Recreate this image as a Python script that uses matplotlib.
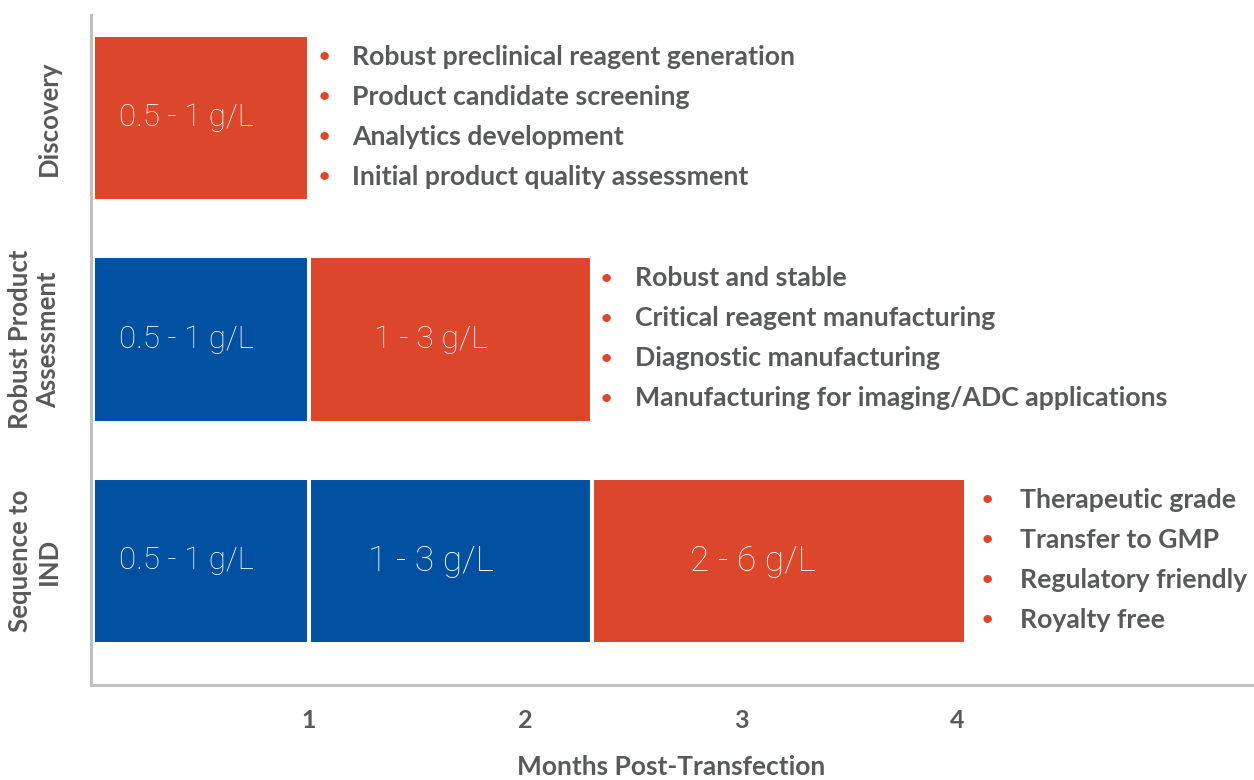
import matplotlib
matplotlib.use("Agg")
import matplotlib.pyplot as plt

plt.rcParams['font.family'] = ['Lato', 'DejaVu Sans']

stages = ["Discovery", "Robust Product\nAssessment", "Sequence to\nIND"]
# segment durations (months) for each stage
durations = [[1.0], [1.0, 1.31], [1.0, 1.31, 1.73]]
seg_labels = [["0.5 - 1 g/L"], ["0.5 - 1 g/L", "1 - 3 g/L"], ["0.5 - 1 g/L", "1 - 3 g/L", "2 - 6 g/L"]]
bullets = [
    ["Robust preclinical reagent generation", "Product candidate screening",
     "Analytics development", "Initial product quality assessment"],
    ["Robust and stable", "Critical reagent manufacturing",
     "Diagnostic manufacturing", "Manufacturing for imaging/ADC applications"],
    ["Therapeutic grade", "Transfer to GMP", "Regulatory friendly", "Royalty free"],
]
xticks = [1, 2, 3, 4]
xlabel = "Months Post-Transfection"

RED = "#DC462B"
BLUE = "#0050A2"
GRAY = "#58595B"
SPINE = "#C0C0C0"

fig = plt.figure(figsize=(12.54, 7.8), dpi=100)
ax = fig.add_axes([91/1254, 1-685/780, (1252-91)/1254, 670/780])

bar_h = 0.75
for i, (durs, labs) in enumerate(zip(durations, seg_labels)):
    left = 0.0
    n = len(durs)
    for j, (d, lab) in enumerate(zip(durs, labs)):
        color = RED if j == n - 1 else BLUE
        ax.barh(i, d, left=left, height=bar_h, color=color, edgecolor="white", linewidth=2.9)
        if j == 0:
            fs = 22.5
        elif i == 2:
            fs = 25.5
        else:
            fs = 23
        ax.text(left + d * 0.43, i, lab, ha="center", va="center", color="white",
                fontsize=fs, fontweight="light", family=["Roboto", "DejaVu Sans"])
        left += d
    # bullets
    off_b = 16 if i == 2 else 9
    off_t = off_b + 34 if i < 2 else off_b + 38
    lines = bullets[i]
    for k, line in enumerate(lines):
        dy = (k - 1.5) * 40 - 1
        ax.annotate("•", xy=(left, i), xytext=(off_b, -dy), textcoords="offset pixels",
                    ha="left", va="center", color=RED, fontsize=14, fontweight="bold")
        ax.annotate(line, xy=(left, i), xytext=(off_t, -dy), textcoords="offset pixels",
                    ha="left", va="center", color=GRAY, fontsize=19.2, fontweight="bold")

ax.set_xlim(-0.01, 5.365)
ax.set_ylim(2.56, -0.465)
ax.set_xticks(xticks)
ax.set_xticklabels([str(t) for t in xticks], fontsize=18, fontweight="bold", color=GRAY)
ax.set_yticks(range(len(stages)))
ax.set_yticklabels(stages, rotation=90, va="center", ha="right", multialignment="center",
                   fontsize=18.5, fontweight="bold", color=GRAY)
ax.tick_params(axis="both", length=0)
ax.tick_params(axis="x", pad=17)
ax.tick_params(axis="y", pad=22)
ax.set_xlabel(xlabel, fontsize=19, fontweight="bold", color=GRAY, labelpad=17)
for s in ["top", "right"]:
    ax.spines[s].set_visible(False)
for s in ["left", "bottom"]:
    ax.spines[s].set_color(SPINE)
    ax.spines[s].set_linewidth(2.2)

fig.savefig("out.png", dpi=100)
